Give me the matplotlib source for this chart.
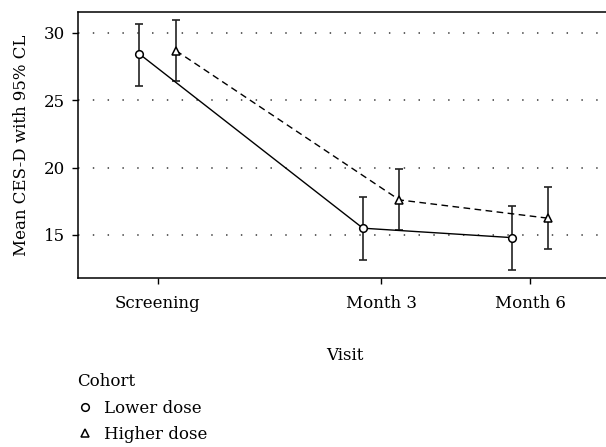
import matplotlib
matplotlib.use("Agg")
import matplotlib.pyplot as plt
from matplotlib.lines import Line2D
import numpy as np

plt.rcParams['font.family'] = ['DejaVu Serif']

visits = ["Screening", "Month 3", "Month 6"]
visit_pos = [0, 3, 5]
lower_mean = [28.44, 15.50, 14.80]
lower_lo = [26.09, 13.15, 12.38]
lower_hi = [30.69, 17.85, 17.16]
higher_mean = [28.69, 17.60, 16.24]
higher_lo = [26.44, 15.37, 13.96]
higher_hi = [30.96, 19.90, 18.57]
yticks = [15, 20, 25, 30]

FS = 12
fig = plt.figure(figsize=(6.06, 4.47), dpi=100)
ax = fig.add_axes([78/606, 1-278/447, 1-78/606+0.01, (278-12)/447])

off = 0.245
xl = np.array(visit_pos) - off
xh = np.array(visit_pos) + off

for y in yticks:
    ax.axhline(y, color='#555555', lw=1.3, linestyle=(0, (0.8, 7.4)), zorder=0)

lm = np.array(lower_mean); hm = np.array(higher_mean)
ax.errorbar(xl, lm, yerr=[lm-np.array(lower_lo), np.array(lower_hi)-lm],
            fmt='none', ecolor='#222222', elinewidth=1.2, capsize=3.2, capthick=1.2, zorder=2)
ax.errorbar(xh, hm, yerr=[hm-np.array(higher_lo), np.array(higher_hi)-hm],
            fmt='none', ecolor='#222222', elinewidth=1.2, capsize=3.2, capthick=1.2, zorder=2)
ax.plot(xl, lm, color='black', lw=1.0, zorder=3)
ax.plot(xh, hm, color='black', lw=1.0, linestyle=(0, (4.8, 3.2)), zorder=3)
ax.plot(xl, lm, 'o', ms=5.5, mfc='white', mec='black', mew=1.1, zorder=4)
ax.plot(xh, hm, '^', ms=5.5, mfc='white', mec='black', mew=1.1, zorder=4)

ax.set_xlim(-1.07, 6.1)
ax.set_ylim(11.8, 31.56)
ax.set_xticks(visit_pos)
ax.set_xticklabels(visits)
ax.set_yticks(yticks)
ax.tick_params(axis='both', labelsize=FS, direction='out', length=4.5, width=1, color='black')
ax.tick_params(axis='x', pad=8)
ax.tick_params(axis='y', pad=5)
for s in ax.spines.values():
    s.set_linewidth(1.1)
ax.set_xlabel("Visit", fontsize=FS, labelpad=25)
ax.set_ylabel("Mean CES-D with 95% CL", fontsize=FS, labelpad=10)

handles = [Line2D([], [], marker='o', ls='none', ms=5.5, mfc='white', mec='black', mew=1.1),
           Line2D([], [], marker='^', ls='none', ms=5.5, mfc='white', mec='black', mew=1.1)]
leg = fig.legend(handles, ["Lower dose", "Higher dose"], title="Cohort",
                 loc='upper left', bbox_to_anchor=(77/606, 1-373/447), frameon=False,
                 fontsize=FS, title_fontsize=FS, handlelength=1.0, handletextpad=0.6,
                 labelspacing=0.55, borderaxespad=0, borderpad=0)
leg._legend_box.align = "left"
leg._legend_box.sep = 7

fig.savefig("out.png", dpi=100)
